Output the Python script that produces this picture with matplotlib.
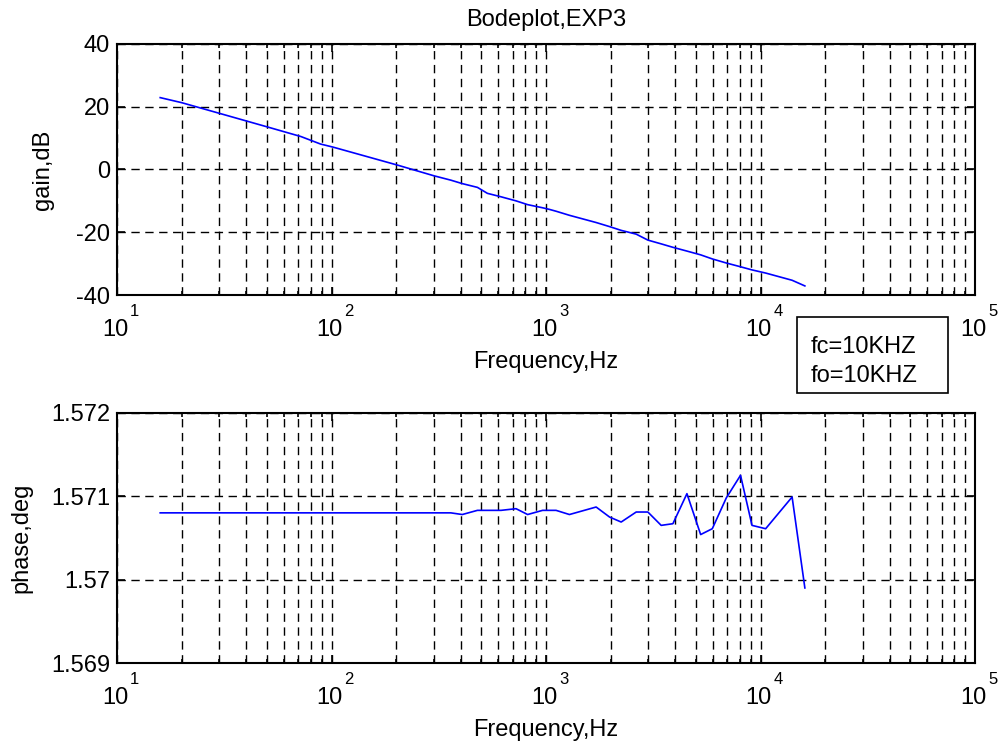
import numpy as np
import matplotlib
matplotlib.use("Agg")
import matplotlib.pyplot as plt
from matplotlib.patches import Rectangle
from matplotlib.ticker import FuncFormatter, NullFormatter, NullLocator, LogLocator

plt.rcParams['font.family'] = ['Liberation Sans', 'DejaVu Sans']
plt.rcParams['axes.unicode_minus'] = False

# measured frequency points (Hz)
freq = [15.9, 20, 30, 50, 72, 89, 102, 203, 300, 360, 407, 479, 533, 617, 725,
        821, 964, 1035, 1114, 1286, 1713, 1978, 2241, 2633, 2985, 3443, 3905,
        4540, 5260, 5960, 6930, 8070, 9130, 10570, 14040, 16100]

# gain in dB
gain = [22.9, 21.3, 17.9, 13.6, 10.5, 8.1, 7.1, 1.4, -2.0, -3.4, -4.5, -5.7,
        -7.6, -8.7, -10.0, -11.2, -12.2, -12.7, -13.3, -14.6, -16.9, -18.2,
        -19.4, -20.6, -22.5, -23.7, -24.8, -26.0, -27.2, -28.5, -29.8, -31.0,
        -32.0, -33.0, -35.3, -37.1]

# phase (labelled deg, really rad)
phase = [1.5708, 1.5708, 1.5708, 1.5708, 1.5708, 1.5708, 1.5708, 1.5708,
         1.5708, 1.5708, 1.57078, 1.57083, 1.57083, 1.57083, 1.57085, 1.57078,
         1.57083, 1.57083, 1.57083, 1.57078, 1.57087, 1.57075, 1.57069, 1.57081,
         1.57081, 1.57065, 1.57067, 1.57103, 1.57054, 1.57061, 1.57098, 1.57125,
         1.57065, 1.57061, 1.57099, 1.56990]

gain_ticks = [-40, -20, 0, 20, 40]
phase_ticks = [1.569, 1.570, 1.571, 1.572]
decades = [1, 2, 3, 4, 5]

fs = 17
dash = (0, (6, 4))

fig = plt.figure(figsize=(10, 7.45), dpi=100)
ax1 = fig.add_axes([0.117, 0.604, 0.858, 0.337])
ax2 = fig.add_axes([0.117, 0.110, 0.858, 0.336])


def style(ax, yticks):
    ax.set_xscale('log')
    ax.set_xlim(10, 1e5)
    ax.set_ylim(yticks[0], yticks[-1])
    ax.set_yticks(yticks)
    ax.yaxis.set_minor_locator(NullLocator())
    ax.xaxis.set_major_locator(LogLocator(base=10, numticks=10))
    ax.xaxis.set_minor_locator(LogLocator(base=10, subs=np.arange(2, 10), numticks=20))
    ax.xaxis.set_major_formatter(NullFormatter())
    ax.xaxis.set_minor_formatter(NullFormatter())
    ax.grid(True, which='major', color='k', ls=dash, lw=1.0)
    ax.grid(True, which='minor', axis='x', color='k', ls=dash, lw=1.0)
    ax.tick_params(which='both', direction='in', top=True, right=True,
                   labelsize=fs, width=1.2, pad=5)
    ax.tick_params(which='major', length=6)
    ax.tick_params(which='minor', length=3)
    for s in ax.spines.values():
        s.set_linewidth(1.5)
    # MATLAB style 10^k labels
    for k in decades:
        ax.annotate("10", xy=(10.0 ** k, 0), xycoords=('data', 'axes fraction'),
                    xytext=(-2, -41), textcoords='offset pixels',
                    ha='center', va='baseline', fontsize=fs)
        ax.annotate(str(k), xy=(10.0 ** k, 0), xycoords=('data', 'axes fraction'),
                    xytext=(13, -21), textcoords='offset pixels',
                    ha='left', va='baseline', fontsize=12)
    ax.set_xlabel("Frequency,Hz", fontsize=fs)
    ax.xaxis.set_label_coords(0.5, -0.222)


ax1.plot(freq, gain, color='blue', lw=1.2)
style(ax1, gain_ticks)
ax1.set_ylabel("gain,dB", fontsize=fs)
ax1.yaxis.set_label_coords(-0.073, 0.5)
ax1.set_title("Bodeplot,EXP3", fontsize=fs, pad=13)

ax2.plot(freq, phase, color='blue', lw=1.2)
style(ax2, phase_ticks)
ax2.yaxis.set_major_formatter(FuncFormatter(lambda v, p: "%g" % round(v, 4)))
ax2.set_ylabel("phase,deg", fontsize=fs)
ax2.yaxis.set_label_coords(-0.098, 0.5)

# annotation box
fig.patches.append(Rectangle((0.797, 1 - 393 / 745), 0.151, 76 / 745,
                             transform=fig.transFigure, fill=False, ec='k', lw=1.2))
fig.text(0.811, 1 - 353 / 745, "fc=10KHZ", fontsize=fs, va='baseline')
fig.text(0.811, 1 - 382 / 745, "fo=10KHZ", fontsize=fs, va='baseline')

fig.savefig("out.png", dpi=100)
